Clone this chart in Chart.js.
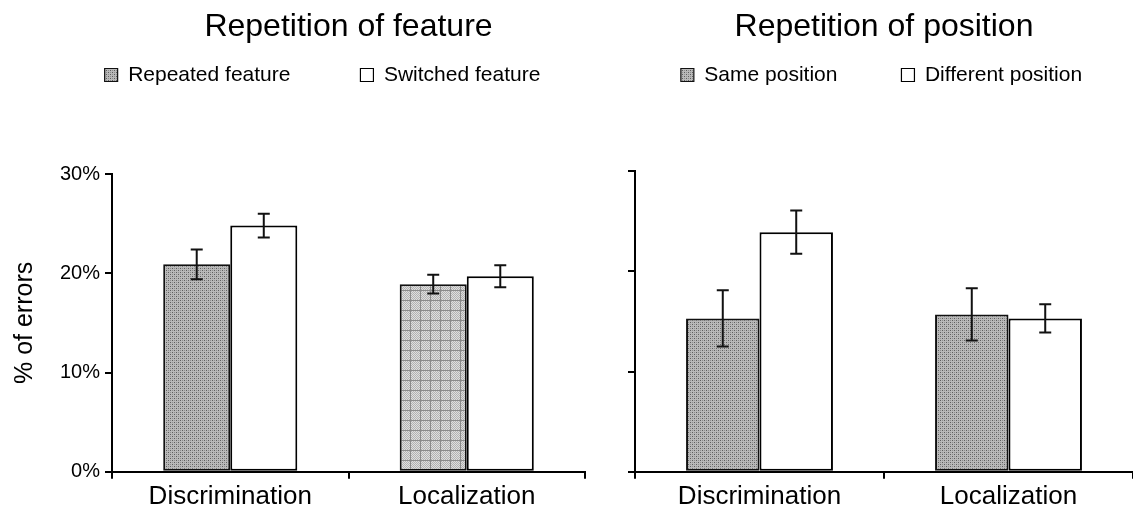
<!DOCTYPE html>
<html>
<head>
<meta charset="utf-8">
<script src="https://cdn.jsdelivr.net/npm/chart.js@4.4.1/dist/chart.umd.min.js"></script>
<style>
  body { margin: 0; background: #fff; }
  #wrap { position: relative; width: 1133px; height: 514px; }
  canvas { position: absolute; top: 0; }
  #featureChart { left: 0; }
  #positionChart { left: 600px; }
</style>
</head>
<body>
<div id="wrap">
  <canvas id="featureChart" width="600" height="514"></canvas>
  <canvas id="positionChart" width="533" height="514"></canvas>
</div>
<script>
const categories = ['Discrimination', 'Localization'];
const repeatedFeature = [20.9, 18.9];
const repeatedFeatureErr = [1.5, 0.95];
const switchedFeature = [24.8, 19.7];
const switchedFeatureErr = [1.2, 1.1];
const samePosition = [15.3, 15.7];
const samePositionErr = [2.8, 2.6];
const differentPosition = [23.9, 15.3];
const differentPositionErr = [2.15, 1.4];
const yMax = 30;
const yStep = 10;

Chart.defaults.font.family = "'Liberation Sans', Arial, Helvetica, sans-serif";
Chart.defaults.color = '#000';

function makePattern(ctx, size, draw) {
    const c = document.createElement('canvas');
    c.width = c.height = size;
    draw(c.getContext('2d'));
    return ctx.createPattern(c, 'repeat');
}

// fine halftone like the scanned bars
function stipple(ctx) {
    return makePattern(ctx, 4, g => {
        g.fillStyle = '#b9b9b9'; g.fillRect(0, 0, 4, 4);
        g.fillStyle = '#5e5e5e'; g.fillRect(0, 0, 1, 1); g.fillRect(2, 2, 1, 1);
        g.fillStyle = '#8e8e8e'; g.fillRect(2, 0, 1, 1); g.fillRect(0, 2, 1, 1);
    });
}

function gridPattern(ctx) {
    return makePattern(ctx, 10, g => {
        g.fillStyle = '#dedede'; g.fillRect(0, 0, 10, 10);
        g.fillStyle = '#b2b2b2';
        for (let i = 0; i < 10; i++)
            for (let j = 0; j < 10; j++)
                if ((i + j) % 2 === 0) g.fillRect(i, j, 1, 1);
        g.fillStyle = '#8a8a8a';
        g.fillRect(0, 0, 10, 1); g.fillRect(0, 0, 1, 10);
    });
}

const errorBars = {
    id: 'errorBars',
    afterDatasetsDraw(chart) {
        const { ctx, scales: { y } } = chart;
        ctx.save();
        ctx.strokeStyle = '#111';
        ctx.lineWidth = 2;
        chart.data.datasets.forEach((ds, i) => {
            chart.getDatasetMeta(i).data.forEach((bar, j) => {
                const v = ds.data[j], e = ds.errors[j];
                const top = y.getPixelForValue(v + e);
                const bottom = y.getPixelForValue(v - e);
                const x = bar.x;
                ctx.beginPath();
                ctx.moveTo(x, top); ctx.lineTo(x, bottom);
                ctx.moveTo(x - 6, top); ctx.lineTo(x + 6, top);
                ctx.moveTo(x - 6, bottom); ctx.lineTo(x + 6, bottom);
                ctx.stroke();
            });
        });
        ctx.restore();
    }
};

// move the legend row up next to the title after layout
const shiftLegend = {
    id: 'shiftLegend',
    afterLayout(chart, args, opts) {
        const lg = chart.legend;
        if (!lg) return;
        lg.left += opts.dx; lg.right += opts.dx;
        lg.top += opts.dy; lg.bottom += opts.dy;
    }
};

function legendLabels(chart) {
    const items = Chart.defaults.plugins.legend.labels.generateLabels(chart);
    items.forEach(it => { it.lineWidth = 1.2; });
    return items;
}

function drawPanel(id, p) {
    const canvas = document.getElementById(id);
    const ctx = canvas.getContext('2d');
    const dots = stipple(ctx);
    const grid = gridPattern(ctx);
    const fillFor = p.gridOnSecond
        ? c => (c.type === 'data' && c.dataIndex === 0 ? dots : grid)
        : c => (c.type === 'data' ? dots : grid);

    new Chart(ctx, {
        type: 'bar',
        data: {
            labels: categories,
            datasets: [{
                label: p.labels[0],
                data: p.first,
                errors: p.firstErr,
                backgroundColor: fillFor,
                borderColor: '#111',
                borderWidth: 2,
                borderSkipped: false
            }, {
                label: p.labels[1],
                data: p.second,
                errors: p.secondErr,
                backgroundColor: '#fff',
                borderColor: '#000',
                borderWidth: 2,
                borderSkipped: false
            }]
        },
        options: {
            responsive: false,
            animation: false,
            events: [],
            layout: { padding: { right: p.padRight } },
            datasets: { bar: { categoryPercentage: p.catPct, barPercentage: 1 } },
            scales: {
                x: {
                    ticks: { font: { size: 26 }, padding: 2 },
                    grid: { drawOnChartArea: false, color: '#000', lineWidth: 2, tickLength: 7, offset: true },
                    border: { color: '#000', width: 2 }
                },
                y: {
                    min: 0,
                    max: yMax,
                    ticks: {
                        display: p.showTicks,
                        stepSize: yStep,
                        callback: v => v + '%',
                        font: { size: 20 },
                        padding: 5
                    },
                    grid: { drawOnChartArea: false, color: '#000', lineWidth: 2, tickLength: 7 },
                    border: { color: '#000', width: 2 },
                    title: {
                        display: p.showTicks,
                        text: '% of errors',
                        font: { size: 25 },
                        padding: { top: 10, bottom: 0 }
                    },
                    afterFit: s => { s.width = p.axisWidth; }
                }
            },
            plugins: {
                title: {
                    display: true,
                    text: p.title,
                    fullSize: false,
                    font: { size: 32, weight: 'normal' },
                    padding: { top: 8, bottom: p.titleBottom }
                },
                legend: {
                    position: 'top',
                    fullSize: true,
                    labels: {
                        boxWidth: 13,
                        boxHeight: 13,
                        padding: p.legendGap,
                        font: { size: 21 },
                        generateLabels: legendLabels
                    }
                },
                shiftLegend: p.shift,
                tooltip: { enabled: false }
            }
        },
        plugins: [errorBars, shiftLegend]
    });
}

drawPanel('featureChart', {
    title: 'Repetition of feature',
    labels: ['Repeated feature', 'Switched feature'],
    first: repeatedFeature, firstErr: repeatedFeatureErr,
    second: switchedFeature, secondErr: switchedFeatureErr,
    gridOnSecond: true,
    showTicks: true,
    axisWidth: 112,
    padRight: 15,
    catPct: 0.567,
    titleBottom: 26.6,
    legendGap: 70,
    shift: { dx: 30, dy: -78.5 }
});

drawPanel('positionChart', {
    title: 'Repetition of position',
    labels: ['Same position', 'Different position'],
    first: samePosition, firstErr: samePositionErr,
    second: differentPosition, secondErr: differentPositionErr,
    gridOnSecond: false,
    showTicks: false,
    axisWidth: 35,
    padRight: 0,
    catPct: 0.59,
    titleBottom: 29.6,
    legendGap: 64,
    shift: { dx: 15, dy: -75.5 }
});
</script>
</body>
</html>
